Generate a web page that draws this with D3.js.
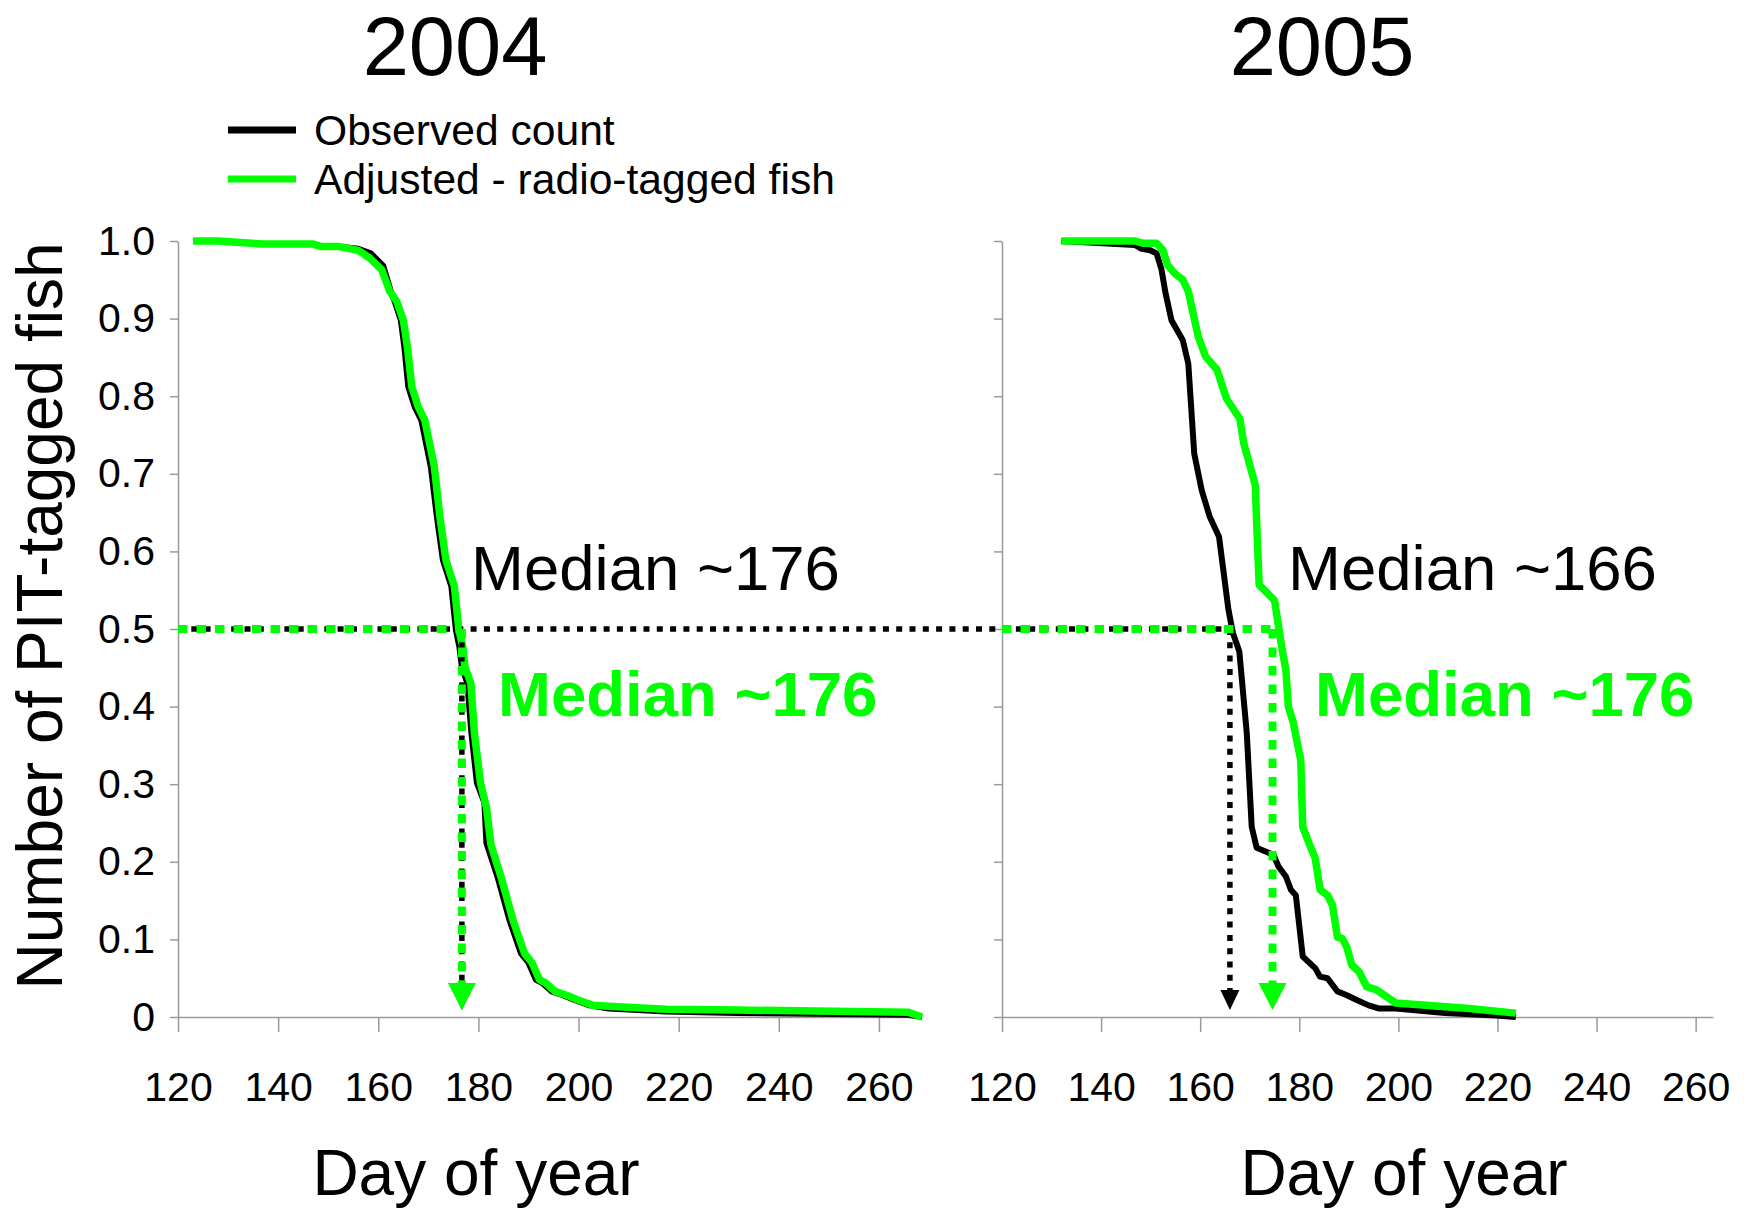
<!DOCTYPE html>
<html lang="en">
<head>
<meta charset="utf-8">
<script src="https://cdn.jsdelivr.net/npm/d3@7"></script>
<style>
  body { margin: 0; background: #fff; }
  text { font-family: "Liberation Sans", Arial, sans-serif; }
</style>
</head>
<body>
<script>

// ---- data ----
var years = ["2004", "2005"];
var xTicks = [120, 140, 160, 180, 200, 220, 240, 260];
var yTicks = [0, 0.1, 0.2, 0.3, 0.4, 0.5, 0.6, 0.7, 0.8, 0.9, 1.0];
var legendLabels = ["Observed count", "Adjusted - radio-tagged fish"];

// 2004, observed count
var days2004Obs = [123, 128, 137, 147, 148.5, 152, 156, 158.5, 161, 162.5, 163.3, 164.5, 165.2, 166, 167.3, 168.6, 170.5, 171.7, 172.9, 174.6, 175.5, 176.2, 176.7, 177.8, 178.6, 179.7, 181.2, 181.6, 183.8, 186.2, 188.5, 190, 191.5, 192.7, 194.6, 196.9, 199.2, 202.2, 206, 217.4, 231.6, 265.9, 268.6];
var frac2004Obs = [1.0, 1.0, 0.996, 0.996, 0.993, 0.993, 0.99, 0.984, 0.968, 0.935, 0.922, 0.898, 0.864, 0.812, 0.786, 0.769, 0.709, 0.645, 0.589, 0.555, 0.499, 0.477, 0.451, 0.43, 0.366, 0.302, 0.276, 0.224, 0.181, 0.125, 0.082, 0.07, 0.048, 0.044, 0.033, 0.028, 0.022, 0.015, 0.011, 0.007, 0.005, 0.003, 0];

// 2004, adjusted
var days2004Adj = [123, 128, 137, 147, 148.5, 152, 156, 158.3, 160.7, 162.3, 163.7, 165, 165.8, 166.7, 168, 169.3, 171.2, 172.3, 173.5, 175.2, 176.1, 176.9, 177.3, 178.5, 179.2, 180.4, 181.6, 182.5, 184.5, 186.9, 189.2, 190.7, 192.2, 193.4, 195.3, 197.6, 199.9, 202.9, 206, 217.4, 231.6, 265.9, 268.6];
var frac2004Adj = [1.0, 1.0, 0.996, 0.996, 0.993, 0.993, 0.988, 0.978, 0.963, 0.935, 0.922, 0.898, 0.864, 0.812, 0.786, 0.769, 0.709, 0.645, 0.589, 0.555, 0.499, 0.477, 0.451, 0.43, 0.366, 0.302, 0.27, 0.222, 0.181, 0.125, 0.082, 0.07, 0.048, 0.044, 0.033, 0.028, 0.022, 0.015, 0.014, 0.010, 0.009, 0.006, 0];

// 2005, observed count
var days2005Obs = [132, 146.8, 148.2, 149.9, 151.2, 152.2, 153, 154.2, 156.5, 157.6, 158.8, 160.3, 161.9, 163.8, 165.7, 166.6, 167.9, 169.4, 170.4, 171.4, 174.8, 175.8, 177.3, 178.3, 179.3, 180.7, 183.2, 184.2, 185.7, 187.7, 189.6, 191.6, 194, 196, 199.5, 209.4, 219.8, 223.7];
var frac2005Obs = [1.0, 0.995, 0.99, 0.988, 0.984, 0.963, 0.933, 0.898, 0.872, 0.842, 0.726, 0.679, 0.645, 0.619, 0.525, 0.495, 0.471, 0.366, 0.245, 0.218, 0.209, 0.194, 0.181, 0.164, 0.157, 0.078, 0.063, 0.052, 0.05, 0.033, 0.028, 0.022, 0.015, 0.011, 0.011, 0.005, 0.002, 0];

// 2005, adjusted
var days2005Adj = [132, 146.8, 148.5, 151.2, 152.5, 153.4, 154.9, 156.5, 157.6, 159.6, 161.1, 163.4, 165.3, 168, 168.8, 171.1, 171.9, 175, 176.5, 177.3, 177.8, 178.8, 180.3, 180.7, 182.2, 183.2, 184.2, 185.7, 186.7, 187.7, 188.7, 189.6, 190.6, 192.1, 193.6, 195.6, 199.5, 214.3, 223.7];
var frac2005Adj = [1.0, 1.0, 0.997, 0.997, 0.988, 0.969, 0.958, 0.95, 0.935, 0.877, 0.851, 0.834, 0.797, 0.771, 0.739, 0.686, 0.557, 0.537, 0.475, 0.447, 0.4, 0.379, 0.331, 0.245, 0.22, 0.205, 0.164, 0.157, 0.144, 0.103, 0.101, 0.09, 0.067, 0.058, 0.039, 0.035, 0.018, 0.011, 0.005];

var medianLevel = 0.5;
var medianObsDay = [176.7, 166];
var medianAdjDay = [176.7, 174.6];
var medianObsText = ["Median ~176", "Median ~166"];
var medianAdjText = ["Median ~176", "Median ~176"];

// ---- layout ----
var black = "#000", green = "#00ff00", axisGrey = "#9a9a9a";

var svg = d3.select("body").append("svg")
  .attr("width", 1748)
  .attr("height", 1210)
  .style("background", "#fff");

var y = d3.scaleLinear().domain([0, 1]).range([1017, 241]);
var xL = d3.scaleLinear().domain([120, 268]).range([178, 919]);
var xR = d3.scaleLinear().domain([120, 263.5]).range([1002, 1713]);

function zip(a, b) { return a.map(function(d, i) { return [d, b[i]]; }); }

var panels = [
  { x: xL, obs: zip(days2004Obs, frac2004Obs), adj: zip(days2004Adj, frac2004Adj),
    titleX: 455, axTitleX: 476, medX: [471, 498], labels: true },
  { x: xR, obs: zip(days2005Obs, frac2005Obs), adj: zip(days2005Adj, frac2005Adj),
    titleX: 1322, axTitleX: 1404, medX: [1288, 1315], labels: false }
];

var yFmt = function(d) { return d === 0 ? "0" : d3.format(".1f")(d); };

panels.forEach(function(p, i) {
  var xa = svg.append("g")
    .attr("transform", "translate(0," + y(0) + ")")
    .call(d3.axisBottom(p.x).tickValues(xTicks).tickSize(15).tickPadding(40).tickSizeOuter(0));

  var ya = svg.append("g")
    .attr("transform", "translate(" + p.x(120) + ",0)")
    .call(d3.axisLeft(y).tickValues(yTicks).tickSize(8).tickPadding(15).tickSizeOuter(0)
      .tickFormat(p.labels ? yFmt : ""));

  [xa, ya].forEach(function(a) {
    a.selectAll("path, line").attr("stroke", axisGrey).attr("stroke-width", 1.5);
    a.selectAll("text").attr("fill", "#000").style("font-size", "41px")
      .style("font-family", "'Liberation Sans', Arial, sans-serif");
  });

  var line = d3.line()
    .x(function(d) { return p.x(d[0]); })
    .y(function(d) { return y(d[1]); });

  svg.append("path").datum(p.obs)
    .attr("d", line).attr("fill", "none")
    .attr("stroke", black).attr("stroke-width", 6).attr("stroke-linejoin", "round");

  svg.append("path").datum(p.adj)
    .attr("d", line).attr("fill", "none")
    .attr("stroke", green).attr("stroke-width", 7.5).attr("stroke-linejoin", "round");

  svg.append("text")
    .attr("x", p.titleX).attr("y", 75)
    .attr("text-anchor", "middle")
    .style("font-size", "83px")
    .text(years[i]);

  svg.append("text")
    .attr("x", p.axTitleX).attr("y", 1195)
    .attr("text-anchor", "middle")
    .style("font-size", "64px")
    .text("Day of year");

  svg.append("text")
    .attr("x", p.medX[0]).attr("y", 590)
    .style("font-size", "63.5px")
    .attr("fill", black)
    .text(medianObsText[i]);

  svg.append("text")
    .attr("x", p.medX[1]).attr("y", 716)
    .style("font-size", "63.5px")
    .style("font-weight", "bold")
    .attr("fill", green)
    .text(medianAdjText[i]);
});

// median guide lines
var yMed = y(medianLevel);

// black dotted: runs across both panels to the 2005 observed median
svg.append("line")
  .attr("x1", xL(120)).attr("x2", xR(medianObsDay[1]))
  .attr("y1", yMed).attr("y2", yMed)
  .attr("stroke", black).attr("stroke-width", 5.5).attr("stroke-dasharray", "6,7.3");

panels.forEach(function(p, i) {
  var xo = p.x(medianObsDay[i]);
  svg.append("line")
    .attr("x1", xo).attr("x2", xo)
    .attr("y1", yMed).attr("y2", y(0) - 25)
    .attr("stroke", black).attr("stroke-width", 5.5).attr("stroke-dasharray", "6,7.3");
  svg.append("path")
    .attr("d", "M" + (xo - 9.5) + "," + (y(0) - 27) + "L" + (xo + 9.5) + "," + (y(0) - 27) + "L" + xo + "," + (y(0) - 7) + "Z")
    .attr("fill", black);
});

panels.forEach(function(p, i) {
  var xg = p.x(medianAdjDay[i]);
  svg.append("line")
    .attr("x1", p.x(120)).attr("x2", xg)
    .attr("y1", yMed).attr("y2", yMed)
    .attr("stroke", green).attr("stroke-width", 8).attr("stroke-dasharray", "9.5,9");
  svg.append("line")
    .attr("x1", xg).attr("x2", xg)
    .attr("y1", yMed).attr("y2", y(0) - 32)
    .attr("stroke", green).attr("stroke-width", 8).attr("stroke-dasharray", "9.5,9");
  svg.append("path")
    .attr("d", "M" + (xg - 14) + "," + (y(0) - 34) + "L" + (xg + 14) + "," + (y(0) - 34) + "L" + xg + "," + (y(0) - 7) + "Z")
    .attr("fill", green);
});

// legend
var legend = svg.selectAll(".legend")
  .data(legendLabels)
  .enter().append("g")
  .attr("class", "legend")
  .attr("transform", function(d, i) { return "translate(0," + (130 + i * 49) + ")"; });

legend.append("line")
  .attr("x1", 228).attr("x2", 296)
  .attr("stroke", function(d, i) { return i === 0 ? black : green; })
  .attr("stroke-width", 7);

legend.append("text")
  .attr("x", 314).attr("y", 15)
  .style("font-size", "42.6px")
  .text(function(d) { return d; });

// y axis title
svg.append("text")
  .attr("transform", "translate(62,616) rotate(-90)")
  .attr("text-anchor", "middle")
  .style("font-size", "64px")
  .text("Number of PIT-tagged fish");

</script>
</body>
</html>
